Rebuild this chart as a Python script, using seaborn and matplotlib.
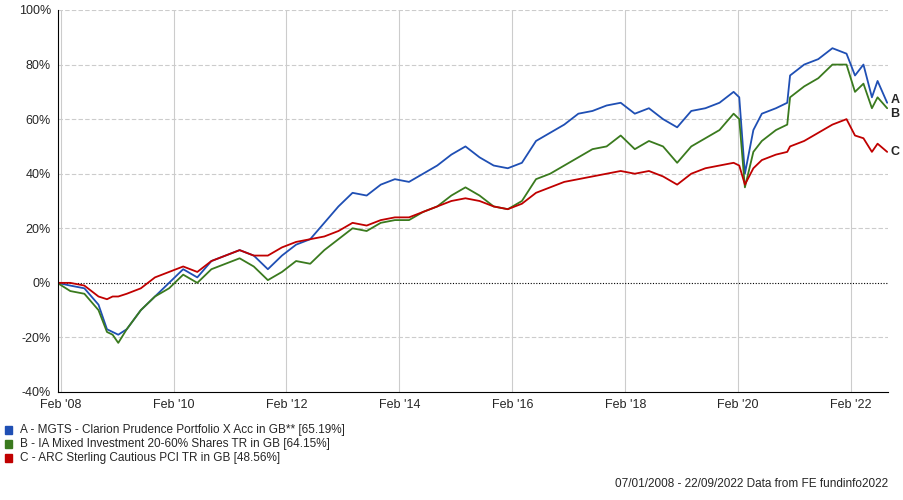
import matplotlib
matplotlib.use("Agg")
import matplotlib.pyplot as plt
import seaborn as sns
import pandas as pd

dates = [2008.02, 2008.25, 2008.5, 2008.75, 2008.9, 2009.0, 2009.1, 2009.25, 2009.5, 2009.75,
         2010.0, 2010.25, 2010.5, 2010.75, 2011.0, 2011.25, 2011.5, 2011.75, 2012.0, 2012.25,
         2012.5, 2012.75, 2013.0, 2013.25, 2013.5, 2013.75, 2014.0, 2014.25, 2014.5, 2014.75,
         2015.0, 2015.25, 2015.5, 2015.75, 2016.0, 2016.25, 2016.5, 2016.75, 2017.0, 2017.25,
         2017.5, 2017.75, 2018.0, 2018.25, 2018.5, 2018.75, 2019.0, 2019.25, 2019.5, 2019.75,
         2020.0, 2020.1, 2020.2, 2020.35, 2020.5, 2020.75, 2020.95, 2021.0, 2021.25, 2021.5,
         2021.75, 2022.0, 2022.15, 2022.3, 2022.45, 2022.55, 2022.72]
series_a = [0, -1, -2, -8, -17, -18, -19, -17, -10, -5, 0, 5, 2, 8, 10, 12, 10, 5, 10, 14,
            16, 22, 28, 33, 32, 36, 38, 37, 40, 43, 47, 50, 46, 43, 42, 44, 52, 55, 58, 62,
            63, 65, 66, 62, 64, 60, 57, 63, 64, 66, 70, 68, 40, 56, 62, 64, 66, 76, 80, 82,
            86, 84, 76, 80, 68, 74, 66]
series_b = [0, -3, -4, -10, -18, -19, -22, -17, -10, -5, -2, 3, 0, 5, 7, 9, 6, 1, 4, 8,
            7, 12, 16, 20, 19, 22, 23, 23, 26, 28, 32, 35, 32, 28, 27, 30, 38, 40, 43, 46,
            49, 50, 54, 49, 52, 50, 44, 50, 53, 56, 62, 60, 35, 48, 52, 56, 58, 68, 72, 75,
            80, 80, 70, 73, 64, 68, 64]
series_c = [0, 0, -1, -5, -6, -5, -5, -4, -2, 2, 4, 6, 4, 8, 10, 12, 10, 10, 13, 15,
            16, 17, 19, 22, 21, 23, 24, 24, 26, 28, 30, 31, 30, 28, 27, 29, 33, 35, 37, 38,
            39, 40, 41, 40, 41, 39, 36, 40, 42, 43, 44, 43, 36, 42, 45, 47, 48, 50, 52, 55,
            58, 60, 54, 53, 48, 51, 48]
names = ["A - MGTS - Clarion Prudence Portfolio X Acc in GB** [65.19%]",
         "B - IA Mixed Investment 20-60% Shares TR in GB [64.15%]",
         "C - ARC Sterling Cautious PCI TR in GB [48.56%]"]
letters = ["A", "B", "C"]
colors = ["#1f4fb4", "#3a7a1e", "#c00000"]
tick_labels = ["Feb '08", "Feb '10", "Feb '12", "Feb '14", "Feb '16", "Feb '18", "Feb '20", "Feb '22"]
tick_pos = [2008.08, 2010.08, 2012.08, 2014.08, 2016.08, 2018.08, 2020.08, 2022.08]

sns.set_style("white")
plt.rcParams["font.family"] = ["Liberation Sans", "DejaVu Sans"]
fig = plt.figure(figsize=(9.04, 5.0), dpi=100)
ax = fig.add_axes([0.064, 0.216, 0.918, 0.764])

df = pd.concat([pd.DataFrame({"x": dates, "y": s, "name": n})
                for s, n in zip([series_a, series_b, series_c], names)])
sns.lineplot(data=df, x="x", y="y", hue="name", palette=colors, linewidth=1.3,
             ax=ax, legend=False)

ax.set_xlim(2008.03, 2022.73)
ax.set_ylim(-40, 100)
ax.set_yticks(range(-40, 101, 20))
ax.set_yticklabels([f"{v}%" for v in range(-40, 101, 20)], fontsize=9)
ax.set_xticks(tick_pos)
ax.set_xticklabels(tick_labels, fontsize=9)
ax.set_xlabel(""); ax.set_ylabel("")
ax.tick_params(axis="both", length=3, pad=2)
for x in tick_pos:
    ax.axvline(x, color="#cccccc", lw=0.8, zorder=0)
for y in range(-20, 101, 20):
    if y != 0:
        ax.axhline(y, color="#cccccc", lw=0.8, ls=(0, (4, 2)), zorder=0)
ax.axhline(0, color="black", lw=0.8, ls=(0, (1, 1.5)), zorder=1)
for sp in ["top", "right"]:
    ax.spines[sp].set_visible(False)
for sp in ["left", "bottom"]:
    ax.spines[sp].set_color("black")

ends = [series_a[-1] + 1, series_b[-1] - 2, series_c[-1]]
for l, e in zip(letters, ends):
    ax.text(2022.78, e, l, fontsize=9, fontweight="bold", va="center", clip_on=False)

for i, (n, c) in enumerate(zip(names, colors)):
    yy = 0.140 - i * 0.028
    fig.patches.append(plt.Rectangle((0.006, yy - 0.008), 0.007, 0.016,
                                     transform=fig.transFigure, color=c))
    fig.text(0.022, yy, n, fontsize=8.5, va="center")
fig.text(0.982, 0.02, "07/01/2008 - 22/09/2022 Data from FE fundinfo2022",
         fontsize=8.5, ha="right", va="bottom")
fig.savefig("out.png", dpi=100)
